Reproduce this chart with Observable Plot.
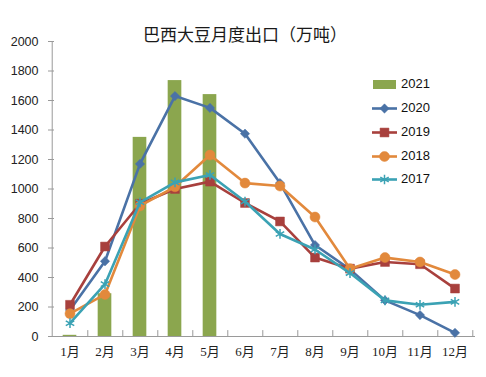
<!DOCTYPE html>
<html><head><meta charset="utf-8">
<script src="https://cdn.jsdelivr.net/npm/d3@7"></script>
<script src="https://cdn.jsdelivr.net/npm/@observablehq/plot@0.6"></script>
<style>
html,body{margin:0;padding:0;background:#fff;}
#wrap{position:relative;width:486px;height:377px;overflow:hidden;background:#fff;}
#title{position:absolute;left:143px;top:24px;font-family:"Noto Sans CJK SC","Noto Sans",sans-serif;font-size:17px;line-height:20px;color:#1a1a1a;white-space:nowrap;}
#legend{position:absolute;left:370px;top:74px;font-family:"Liberation Sans",Arial,sans-serif;font-size:13px;color:#111;}
.item{position:absolute;left:0;height:20px;white-space:nowrap;}
.item svg{position:absolute;left:0;top:0;}
.item span{position:absolute;left:31px;top:1px;line-height:18px;}
</style></head><body>
<div id="wrap"><div id="chart"></div><div id="title">巴西大豆月度出口（万吨）</div><div id="legend"></div></div>
<script>
const months = ["1月","2月","3月","4月","5月","6月","7月","8月","9月","10月","11月","12月"];
const v2021 = [8, 290, 1350, 1735, 1640, null, null, null, null, null, null, null];
const v2020 = [180, 510, 1170, 1630, 1550, 1375, 1040, 620, 455, 245, 145, 25];
const v2019 = [215, 610, 900, 1000, 1050, 905, 780, 535, 460, 505, 490, 325];
const v2018 = [155, 285, 885, 1015, 1230, 1040, 1020, 810, 460, 535, 505, 420];
const v2017 = [90, 355, 910, 1045, 1095, 915, 695, 590, 430, 245, 215, 235];
const yTicks = [0, 200, 400, 600, 800, 1000, 1200, 1400, 1600, 1800, 2000];

const barColor = "#8BA64E";
const lineSeries = [
  {year: "2020", values: v2020, color: "#4A72A6", symbol: "diamond2", r: 4.2, fill: true},
  {year: "2019", values: v2019, color: "#A8403D", symbol: "square", r: 5, fill: true},
  {year: "2018", values: v2018, color: "#E2893C", symbol: "circle", r: 5, fill: true},
  {year: "2017", values: v2017, color: "#3BA2B4", symbol: "asterisk", r: 4.6, fill: false}
];

const bars = months.map((m, i) => ({month: m, value: v2021[i]})).filter(d => d.value != null);

const W = 486, H = 377, mL = 48, mR = 11, mT = 41, mB = 41;
const bw = (W - mL - mR) / months.length;

const marks = [
  Plot.barY(bars, {x: "month", y: "value", fill: barColor, insetLeft: bw * 0.3, insetRight: bw * 0.3}),
  // x axis line
  Plot.ruleY([0], {stroke: "#9a9a9a", strokeWidth: 1}),
  // y axis line
  Plot.ruleX(["1月"], {x: d => d, y1: 0, y2: 2000, dx: -bw / 2, stroke: "#9a9a9a", strokeWidth: 1}),
  // x tick marks at category boundaries (inside)
  Plot.ruleX(months, {x: d => d, y1: 0, y2: 40, dx: bw / 2, stroke: "#9a9a9a", strokeWidth: 1}),
  // y tick marks (inside)
  Plot.axisY({ticks: yTicks, tickSize: -6, tickFormat: () => "", color: "#9a9a9a", label: null}),
  Plot.axisY({ticks: yTicks, tickSize: 0, tickPadding: 10, tickFormat: d => String(d), color: "#222", fontSize: 12.5, fontFamily: "Liberation Sans, Arial, sans-serif", label: null}),
  Plot.axisX({tickSize: 0, tickPadding: 10, color: "#222", fontSize: 13, fontFamily: "Liberation Serif, Noto Sans CJK SC, serif", label: null})
];
for (const s of lineSeries) {
  const data = months.map((m, i) => ({month: m, value: s.values[i]}));
  marks.push(Plot.line(data, {x: "month", y: "value", stroke: s.color, strokeWidth: 2.6}));
  marks.push(Plot.dot(data, {x: "month", y: "value", symbol: s.symbol, r: s.r,
    fill: s.fill ? s.color : "none", stroke: s.color, strokeWidth: s.fill ? 0.5 : 1.5}));
}

const chart = Plot.plot({
  width: W, height: H,
  marginLeft: mL, marginRight: mR, marginTop: mT, marginBottom: mB,
  style: {background: "#fff", overflow: "visible"},
  x: {type: "band", domain: months, padding: 0, axis: null},
  y: {domain: [0, 2000], axis: null},
  marks
});
document.getElementById("chart").appendChild(chart);

// legend
const legend = d3.select("#legend");
const entries = [{year: "2021", bar: true}].concat(lineSeries);
const legendY = [0, 24, 47.5, 71.5, 95];
entries.forEach((e, i) => {
  const item = legend.append("div").attr("class", "item").style("top", (legendY[i]) + "px");
  const svg = item.append("svg").attr("width", 30).attr("height", 20);
  if (e.bar) {
    svg.append("rect").attr("x", 3).attr("y", 6).attr("width", 23).attr("height", 9).attr("fill", barColor);
  } else {
    svg.append("line").attr("x1", 2).attr("x2", 27).attr("y1", 10.5).attr("y2", 10.5).attr("stroke", e.color).attr("stroke-width", 2.6);
    const symMap = {diamond2: d3.symbolDiamond2, square: d3.symbolSquare, circle: d3.symbolCircle, asterisk: d3.symbolAsterisk};
    svg.append("path").attr("transform", "translate(14.5,10.5)")
      .attr("d", d3.symbol(symMap[e.symbol], Math.PI * e.r * e.r)())
      .attr("fill", e.fill ? e.color : "none").attr("stroke", e.color).attr("stroke-width", e.fill ? 0.5 : 1.5);
  }
  item.append("span").text(e.year);
});
</script>
</body></html>
